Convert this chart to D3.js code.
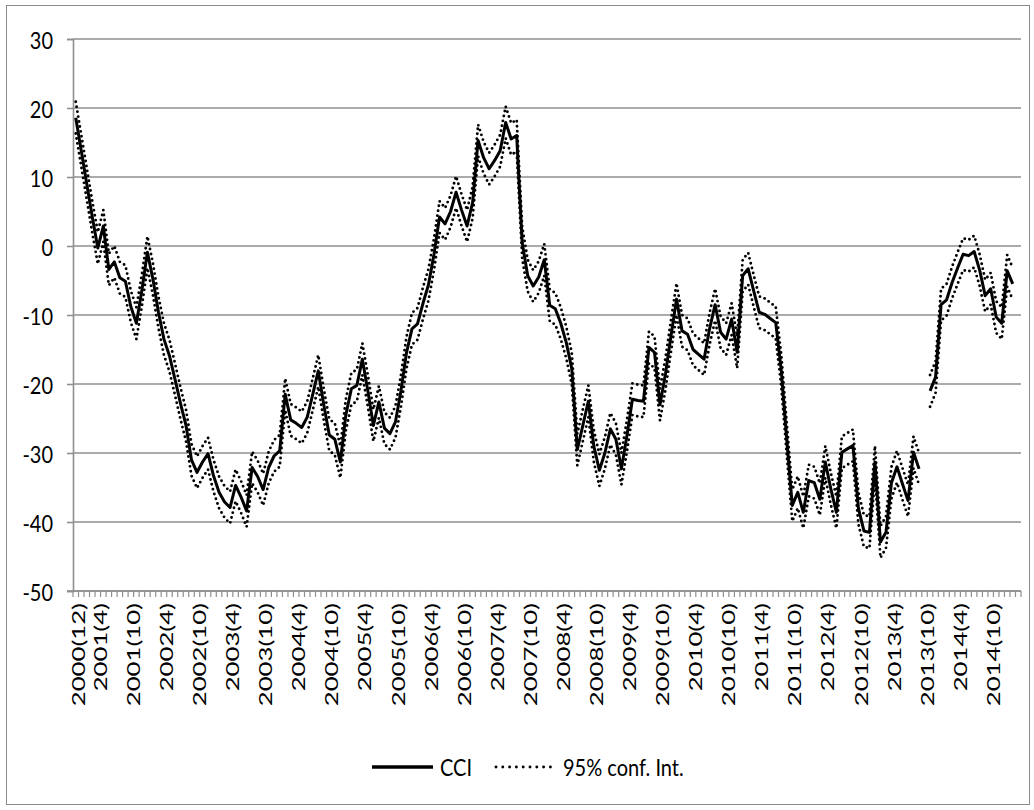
<!DOCTYPE html>
<html>
<head>
<meta charset="utf-8">
<script src="https://cdn.jsdelivr.net/npm/d3@7"></script>
<style>
  html, body { margin: 0; padding: 0; background: #fff; }
  svg { display: block; }
</style>
</head>
<body>
<svg id="chart" width="1034" height="810"></svg>
<script>
// Monthly categories, December 2000 through March 2015
const firstYear = 2000, firstMonth = 12, monthCount = 172;
const categories = [];
for (let k = 0; k < monthCount; k++) {
  const m = (firstMonth - 1 + k) % 12 + 1;
  const yr = firstYear + Math.floor((firstMonth - 1 + k) / 12);
  categories.push(yr + "(" + m + ")");
}

// Labels shown under the category axis
const tickLabels = [
  "2000(12)", "2001(4)", "2001(10)", "2002(4)", "2002(10)", "2003(4)", "2003(10)",
  "2004(4)", "2004(10)", "2005(4)", "2005(10)", "2006(4)", "2006(10)", "2007(4)",
  "2007(10)", "2008(4)", "2008(10)", "2009(4)", "2009(10)", "2010(4)", "2010(10)",
  "2011(4)", "2011(10)", "2012(4)", "2012(10)", "2013(4)", "2013(10)", "2014(4)",
  "2014(10)"
];

const yTicks = [-50, -40, -30, -20, -10, 0, 10, 20, 30];

// Consumer confidence indicator (null = no observation)
const cci = [
  18.6, 13.8, 9.0, 4.2, -0.3, 2.9, -3.4, -2.3, -4.6, -5.1, -8.8, -11.2,
  -6.4, -0.9, -4.8, -9.6, -13.5, -15.9, -19.3, -22.8, -26.0, -31.0, -32.8, -31.3,
  -30.1, -33.3, -35.7, -37.1, -37.9, -34.7, -36.4, -38.4, -32.1, -33.4, -35.3, -32.1,
  -30.4, -29.7, -21.5, -25.2, -25.7, -26.3, -24.8, -21.5, -18.1, -23.0, -27.4, -28.0,
  -31.3, -24.5, -20.7, -20.2, -16.4, -21.0, -26.0, -22.6, -26.4, -27.2, -25.5, -21.0,
  -15.5, -12.0, -11.3, -8.3, -5.6, -1.2, 4.2, 3.2, 5.0, 7.8, 5.2, 2.9,
  6.3, 15.3, 12.8, 11.2, 12.4, 13.8, 17.9, 15.5, 16.0, 0.5, -4.3, -5.8,
  -4.5, -2.0, -8.6, -9.1, -11.2, -14.0, -17.8, -29.5, -26.0, -22.5, -29.0, -32.5,
  -30.0, -26.5, -28.0, -32.3, -27.5, -22.2, -22.4, -22.5, -14.7, -15.4, -23.0, -18.5,
  -13.0, -7.7, -12.3, -12.8, -15.0, -15.7, -16.4, -12.0, -8.5, -12.5, -13.5, -10.6,
  -15.4, -4.3, -3.3, -6.5, -9.6, -9.9, -10.5, -11.1, -18.0, -28.0, -37.6, -35.7,
  -38.6, -34.0, -34.3, -36.7, -31.3, -35.2, -38.6, -29.9, -29.4, -28.9, -38.0, -41.3,
  -41.5, -31.3, -42.9, -41.5, -34.3, -32.0, -34.5, -36.9, -29.9, -32.3, null, -21.0,
  -19.0, -8.5, -7.8, -5.3, -3.2, -1.2, -1.4, -0.8, -3.5, -7.2, -6.2, -10.3,
  -11.2, -3.6, -5.5, null
];

// Upper bound of the 95% confidence interval
const ciUpper = [
  20.9, 16.1, 11.3, 6.5, 2.0, 5.2, -1.1, 0.0, -2.3, -2.8, -6.5, -8.9,
  -4.1, 1.4, -2.5, -7.3, -11.2, -13.6, -17.0, -20.5, -23.7, -28.7, -30.5, -29.0,
  -27.8, -31.0, -33.4, -34.8, -35.6, -32.4, -34.1, -36.1, -29.8, -31.1, -33.0, -29.8,
  -28.1, -27.4, -19.2, -22.9, -23.4, -24.0, -22.5, -19.2, -15.8, -20.7, -25.1, -25.7,
  -29.0, -22.2, -18.4, -17.9, -14.1, -18.7, -23.7, -20.3, -24.1, -24.9, -23.2, -18.7,
  -13.2, -9.7, -9.0, -6.0, -3.3, 1.1, 6.5, 5.5, 7.3, 10.1, 7.5, 5.2,
  8.6, 17.6, 15.1, 13.5, 14.7, 16.1, 20.2, 17.8, 18.3, 2.8, -2.0, -3.5,
  -2.2, 0.3, -6.3, -6.8, -8.9, -11.7, -15.5, -27.2, -23.7, -20.2, -26.7, -30.2,
  -27.7, -24.2, -25.7, -30.0, -25.2, -19.9, -20.1, -20.2, -12.4, -13.1, -20.7, -16.2,
  -10.7, -5.4, -10.0, -10.5, -12.7, -13.4, -14.1, -9.7, -6.2, -10.2, -11.2, -8.3,
  -13.1, -2.0, -1.0, -4.2, -7.3, -7.6, -8.2, -8.8, -15.7, -25.7, -35.3, -33.4,
  -36.3, -31.7, -32.0, -34.4, -29.0, -32.9, -36.3, -27.6, -27.1, -26.6, -35.7, -39.0,
  -39.2, -29.0, -40.6, -39.2, -32.0, -29.7, -32.2, -34.6, -27.6, -30.0, null, -18.7,
  -16.7, -6.2, -5.5, -3.0, -0.9, 1.1, 0.9, 1.5, -1.2, -4.9, -3.9, -8.0,
  -8.9, -1.3, -3.2, null
];

// Lower bound of the 95% confidence interval
const ciLower = [
  16.3, 11.5, 6.7, 1.9, -2.6, 0.6, -5.7, -4.6, -6.9, -7.4, -11.1, -13.5,
  -8.7, -3.2, -7.1, -11.9, -15.8, -18.2, -21.6, -25.1, -28.3, -33.3, -35.1, -33.6,
  -32.4, -35.6, -38.0, -39.4, -40.2, -37.0, -38.7, -40.7, -34.4, -35.7, -37.6, -34.4,
  -32.7, -32.0, -23.8, -27.5, -28.0, -28.6, -27.1, -23.8, -20.4, -25.3, -29.7, -30.3,
  -33.6, -26.8, -23.0, -22.5, -18.7, -23.3, -28.3, -24.9, -28.7, -29.5, -27.8, -23.3,
  -17.8, -14.3, -13.6, -10.6, -7.9, -3.5, 1.9, 0.9, 2.7, 5.5, 2.9, 0.6,
  4.0, 13.0, 10.5, 8.9, 10.1, 11.5, 15.6, 13.2, 13.7, -1.8, -6.6, -8.1,
  -6.8, -4.3, -10.9, -11.4, -13.5, -16.3, -20.1, -31.8, -28.3, -24.8, -31.3, -34.8,
  -32.3, -28.8, -30.3, -34.6, -29.8, -24.5, -24.7, -24.8, -17.0, -17.7, -25.3, -20.8,
  -15.3, -10.0, -14.6, -15.1, -17.3, -18.0, -18.7, -14.3, -10.8, -14.8, -15.8, -12.9,
  -17.7, -6.6, -5.6, -8.8, -11.9, -12.2, -12.8, -13.4, -20.3, -30.3, -39.9, -38.0,
  -40.9, -36.3, -36.6, -39.0, -33.6, -37.5, -40.9, -32.2, -31.7, -31.2, -40.3, -43.6,
  -43.8, -33.6, -45.2, -43.8, -36.6, -34.3, -36.8, -39.2, -32.2, -34.6, null, -23.3,
  -21.3, -10.8, -10.1, -7.6, -5.5, -3.5, -3.7, -3.1, -5.8, -9.5, -8.5, -12.6,
  -13.5, -5.9, -7.8, null
];

const seriesNames = ["CCI", "95% conf. Int."];

// ---------------------------------------------------------------
const svg = d3.select("#chart");
const plot = { left: 73, right: 1021, top: 39, bottom: 591 };
const gridColor = "#8f8f8f";
const labelFont = "Lato, 'Open Sans', sans-serif";
const textStretch = 1.18;      // labels are drawn slightly tall
const xLabelStretch = 1.56;    // rotated labels run long

// outer frame
svg.append("rect")
  .attr("x", 6.5).attr("y", 5.5)
  .attr("width", 1023).attr("height", 799)
  .attr("fill", "#fff")
  .attr("stroke", "#8a8a8a").attr("stroke-width", 1);

const x = d3.scaleBand().domain(categories).range([plot.left, plot.right]).padding(0);
const y = d3.scaleLinear().domain([-50, 30]).range([plot.bottom, plot.top]);
const cx = c => x(c) + x.bandwidth() / 2;

// horizontal gridlines
svg.append("g").selectAll("line").data(yTicks).join("line")
  .attr("x1", plot.left).attr("x2", plot.right)
  .attr("y1", d => y(d)).attr("y2", d => y(d))
  .attr("stroke", gridColor).attr("stroke-width", 1.6);

// value axis (plain hyphen for negatives)
const yAxis = svg.append("g")
  .attr("transform", `translate(${plot.left},0)`)
  .call(d3.axisLeft(y).tickValues(yTicks).tickSize(6).tickFormat(d => String(d)));
yAxis.select(".domain").attr("stroke", gridColor).attr("stroke-width", 1.6);
yAxis.selectAll(".tick line").attr("stroke", gridColor).attr("stroke-width", 1.6);
yAxis.selectAll(".tick text")
  .attr("font-family", labelFont).attr("font-size", 20).attr("fill", "#000")
  .attr("x", null).attr("dy", null)
  .attr("text-anchor", "end").attr("dominant-baseline", "central")
  .attr("transform", `translate(-20,0) scale(1,${textStretch})`);

// category axis: baseline and a tick at every month boundary
const xAxis = svg.append("g");
xAxis.append("line")
  .attr("x1", plot.left - 6).attr("x2", plot.right)
  .attr("y1", plot.bottom).attr("y2", plot.bottom)
  .attr("stroke", gridColor).attr("stroke-width", 1.6);
xAxis.selectAll("line.tick").data(categories.concat([null])).join("line")
  .attr("class", "tick")
  .attr("x1", d => d === null ? plot.right : x(d))
  .attr("x2", d => d === null ? plot.right : x(d))
  .attr("y1", plot.bottom).attr("y2", plot.bottom + 6)
  .attr("stroke", gridColor).attr("stroke-width", 1.2);

xAxis.selectAll("text").data(tickLabels).join("text")
  .attr("transform", d => `translate(${cx(d) + 3},${plot.bottom + 12}) scale(1,${xLabelStretch}) rotate(-90)`)
  .attr("text-anchor", "end").attr("dominant-baseline", "central")
  .attr("font-family", labelFont).attr("font-size", 16.5).attr("fill", "#000")
  .text(d => d);

// series lines
const line = d3.line()
  .defined(d => d !== null)
  .x((d, i) => cx(categories[i]))
  .y(d => y(d));

const dotted = { stroke: "#000", width: 2.9, dash: "0 5" };

[ciUpper, ciLower].forEach(s => {
  svg.append("path").datum(s)
    .attr("d", line)
    .attr("fill", "none")
    .attr("stroke", dotted.stroke).attr("stroke-width", dotted.width)
    .attr("stroke-linecap", "round").attr("stroke-dasharray", dotted.dash);
});

svg.append("path").datum(cci)
  .attr("d", line)
  .attr("fill", "none")
  .attr("stroke", "#000").attr("stroke-width", 3)
  .attr("stroke-linejoin", "round");

// legend
const legend = svg.append("g");
const legY = 767;
legend.append("line")
  .attr("x1", 372).attr("x2", 433).attr("y1", legY).attr("y2", legY)
  .attr("stroke", "#000").attr("stroke-width", 3.5);
legend.append("text")
  .attr("transform", `translate(440,${legY}) scale(1,${textStretch})`)
  .attr("dominant-baseline", "central")
  .attr("font-family", labelFont).attr("font-size", 20)
  .text(seriesNames[0]);
legend.append("line")
  .attr("x1", 496).attr("x2", 551).attr("y1", legY).attr("y2", legY)
  .attr("stroke", "#000").attr("stroke-width", dotted.width)
  .attr("stroke-linecap", "round").attr("stroke-dasharray", "0 6.8");
legend.append("text")
  .attr("transform", `translate(563,${legY}) scale(1,${textStretch})`)
  .attr("dominant-baseline", "central")
  .attr("font-family", labelFont).attr("font-size", 20)
  .text(seriesNames[1]);
</script>
</body>
</html>
